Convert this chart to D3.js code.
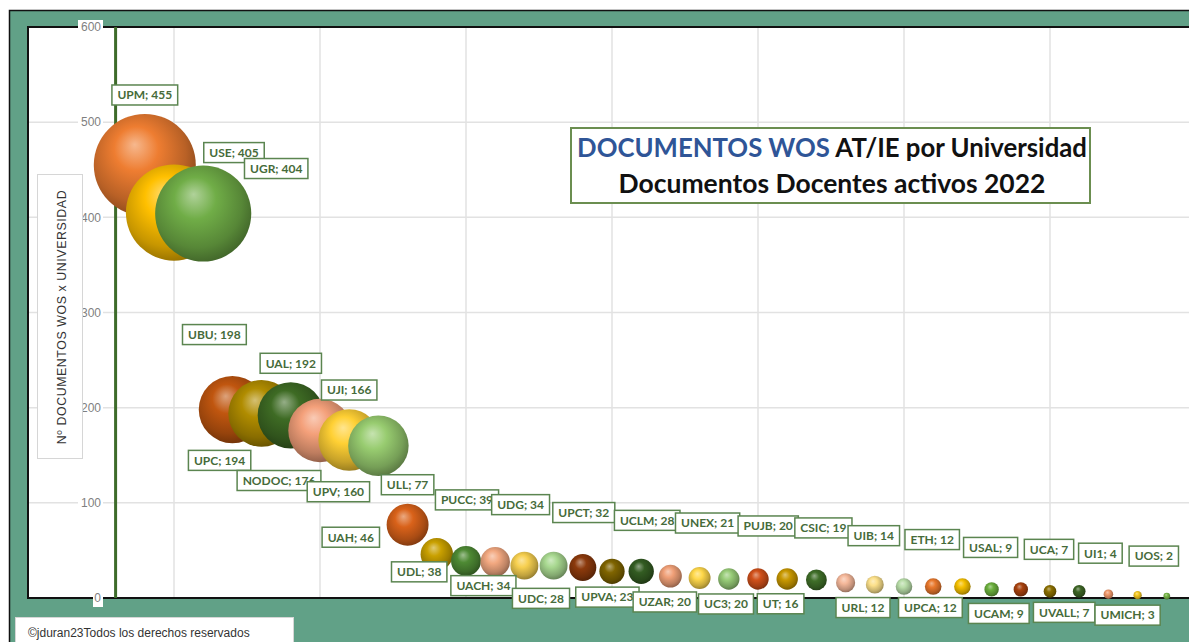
<!DOCTYPE html>
<html lang="es">
<head>
<meta charset="UTF-8">
<title>Documentos WOS AT/IE por Universidad</title>
<script src="https://d3js.org/d3.v7.min.js"></script>
<style>
  body { margin: 0; background: #fff; }
  svg { display: block; font-family: Lato, "Open Sans", sans-serif; }
</style>
</head>
<body>
<svg id="chart" width="1189" height="642"></svg>
<script>
// datos
var universidades = ["UPM","USE","UGR","UBU","UPC","UAL","NODOC","UJI","UPV","ULL","UAH","PUCC",
  "UDL","UACH","UDG","UPCT","UDC","UCLM","UPVA","UNEX","UZAR","UC3","PUJB","CSIC","UT","UIB",
  "URL","ETH","UPCA","USAL","UCAM","UCA","UVALL","UI1","UMICH","UOS"];
var orden = [1,2,3,4,5,6,7,8,9,10,11,12,13,14,15,16,17,18,19,20,21,22,23,24,25,26,27,28,29,30,31,32,33,34,35,36];
var documentos = [455,405,404,198,194,192,176,166,160,77,46,39,38,34,34,32,28,28,23,21,20,20,20,19,16,14,12,12,12,9,9,7,7,4,3,2];
var colores = ["#ee7d31","#ffc000","#70ad47","#c0560f","#b08c00","#3e6b24","#f4a07a","#ffd034","#98cc70",
  "#d9621a","#c9a000","#4e8a34","#f2a880","#f7d050","#a8d890","#8c3a0c","#7f6400","#335c22",
  "#f0a078","#ffd84a","#98cc78","#d0501a","#c89800","#3f6e28","#f5b89a","#fce08a","#b8dda8",
  "#e8782c","#f5c000","#6aae3c","#a8420e","#8a6e00","#3c6424","#f0986a","#f5c820","#78b848"];
var yTicks = [0,100,200,300,400,500,600];
var xGrid = [2,7,12,17,22,27,32,37];

// desplazamiento de cada etiqueta respecto a su burbuja (px)
var etiquetaDx = [0,60,73,-18,-42,0,-41,0,-40,0,-86,1,-76,-41,-33,1,-71,6,-63,8,-64,-32,-19,7,-65,-1,-41,-1,-32,-1,-22,-1,-15,-8,-10,-13];
var etiquetaDy = [-70,-60,-45,-75,47,-52,50,-50,46,-40,-17,-61,10,20,-61,-55,27,-51,21,-55,23,25,-53,-52,21,-49,21,-47,21,-42,24,-42,21,-41,20,-40];

var svg = d3.select("#chart");
var plotL = 28, plotT = 27, plotB = 598, plotR = 1210;

var x = d3.scaleLinear().domain([-3, 38]).range([plotL, plotL + 41 * 29.2]);
var y = d3.scaleLinear().domain([0, 600]).range([plotB, plotT]);
var r = d3.scaleSqrt().domain([0, 455]).range([0, 51]);

// marco verde
svg.append("rect").attr("x", 9.5).attr("y", 10.5).attr("width", 1300).attr("height", 700)
  .attr("fill", "#61a187").attr("stroke", "#111").attr("stroke-width", 1.5);
svg.append("rect").attr("x", plotL).attr("y", plotT).attr("width", plotR - plotL).attr("height", plotB - plotT)
  .attr("fill", "#fff").attr("stroke", "#111").attr("stroke-width", 2);

// rejilla
svg.append("g").selectAll("line").data(yTicks.slice(1, 6)).join("line")
  .attr("x1", plotL + 1).attr("x2", plotR).attr("y1", d => y(d)).attr("y2", d => y(d))
  .attr("stroke", "#e2e2e2").attr("stroke-width", 1.5);
svg.append("g").selectAll("line").data(xGrid).join("line")
  .attr("x1", d => x(d)).attr("x2", d => x(d)).attr("y1", plotT + 1).attr("y2", plotB - 1)
  .attr("stroke", "#e2e2e2").attr("stroke-width", 1.5);

// eje vertical
svg.append("line").attr("x1", x(0)).attr("x2", x(0)).attr("y1", plotT).attr("y2", plotB)
  .attr("stroke", "#3d6b2a").attr("stroke-width", 3);

// etiquetas del eje Y
var ticks = svg.append("g").selectAll("g").data(yTicks).join("g")
  .attr("transform", d => "translate(101," + y(d) + ")");
ticks.append("rect").attr("x", d => d === 0 ? -8 : -23).attr("y", -7).attr("width", d => d === 0 ? 10 : 25).attr("height", d => d === 0 ? 16 : 14)
  .attr("fill", "#fff");
ticks.append("text").attr("text-anchor", "end").attr("dy", "0.35em")
  .attr("font-family", "'Liberation Sans', Arial, sans-serif").attr("font-size", 12).attr("fill", "#7f7f7f")
  .text(d => d);

// titulo eje Y
svg.append("rect").attr("x", 37.5).attr("y", 174.5).attr("width", 45).attr("height", 284)
  .attr("fill", "#fff").attr("stroke", "#d6d6d6");
var yTitle = svg.append("text").attr("transform", "translate(66,317) rotate(-90)")
  .attr("text-anchor", "middle").attr("font-family", "'Liberation Sans', Arial, sans-serif")
  .attr("font-size", 12).attr("fill", "#333").attr("letter-spacing", 0.6)
  .text("Nº DOCUMENTOS WOS x UNIVERSIDAD");

// burbujas con efecto esfera
var defs = svg.append("defs");
colores.forEach(function (c, i) {
  var g = defs.append("radialGradient").attr("id", "esf" + i)
    .attr("cx", "45%").attr("cy", "42%").attr("r", "62%").attr("fx", "40%").attr("fy", "30%");
  var base = d3.color(c);
  g.append("stop").attr("offset", "0%").attr("stop-color", d3.interpolateRgb(c, "#fff")(0.45));
  g.append("stop").attr("offset", "35%").attr("stop-color", base.formatHex());
  g.append("stop").attr("offset", "75%").attr("stop-color", base.darker(0.7).formatHex());
  g.append("stop").attr("offset", "100%").attr("stop-color", base.darker(1.6).formatHex());
});

var datos = universidades.map(function (u, i) {
  return { nombre: u, x: orden[i], v: documentos[i], i: i };
});

svg.append("g").selectAll("circle").data(datos).join("circle")
  .attr("cx", d => x(d.x)).attr("cy", d => y(d.v)).attr("r", d => r(d.v))
  .attr("fill", d => "url(#esf" + d.i + ")");

// etiquetas de datos
var etiq = svg.append("g").selectAll("g").data(datos).join("g")
  .attr("transform", d => "translate(" + (x(d.x) + etiquetaDx[d.i]) + "," + (y(d.v) + etiquetaDy[d.i]) + ")");
etiq.append("rect").attr("fill", "#fff").attr("stroke", "#5b8550").attr("stroke-width", 1.5);
etiq.append("text").attr("text-anchor", "middle").attr("dy", "0.36em")
  .attr("font-size", 12).attr("font-weight", 700).attr("fill", "#466b3a")
  .text(d => d.nombre + "; " + d.v);
etiq.each(function () {
  var t = d3.select(this).select("text").node().getBBox();
  d3.select(this).select("rect").attr("x", -t.width / 2 - 5.5).attr("y", -10)
    .attr("width", t.width + 11).attr("height", 20);
});

// cuadro de titulo
svg.append("rect").attr("x", 571).attr("y", 128).attr("width", 519).attr("height", 75)
  .attr("fill", "#fff").attr("stroke", "#6b8e50").attr("stroke-width", 2);
var t1 = svg.append("text").attr("x", 832).attr("y", 157).attr("text-anchor", "middle")
  .attr("font-size", 24).attr("font-weight", 700).attr("fill", "#111");
t1.append("tspan").attr("fill", "#2f5597").text("DOCUMENTOS WOS");
t1.append("tspan").text(" AT/IE por Universidad");
var t2 = svg.append("text").attr("x", 832).attr("y", 193).attr("text-anchor", "middle")
  .attr("font-size", 24).attr("font-weight", 700).attr("fill", "#111").text("Documentos Docentes activos 2022");

function ajustar(sel, ancho) {
  var w = sel.node().getComputedTextLength();
  var fs = +sel.attr("font-size");
  sel.attr("font-size", fs * ancho / w);
}
ajustar(t1, 510);
ajustar(t2, 427);
ajustar(yTitle, 255);

// copyright
svg.append("rect").attr("x", 15.5).attr("y", 617.5).attr("width", 278).attr("height", 40)
  .attr("fill", "#fff").attr("stroke", "#d6d6d6");
var cp = svg.append("text").attr("x", 28).attr("y", 637)
  .attr("font-family", "'Liberation Sans', Arial, sans-serif").attr("font-size", 11).attr("fill", "#333")
  .text("©jduran23Todos los derechos reservados");
ajustar(cp, 222);
</script>
</body>
</html>
